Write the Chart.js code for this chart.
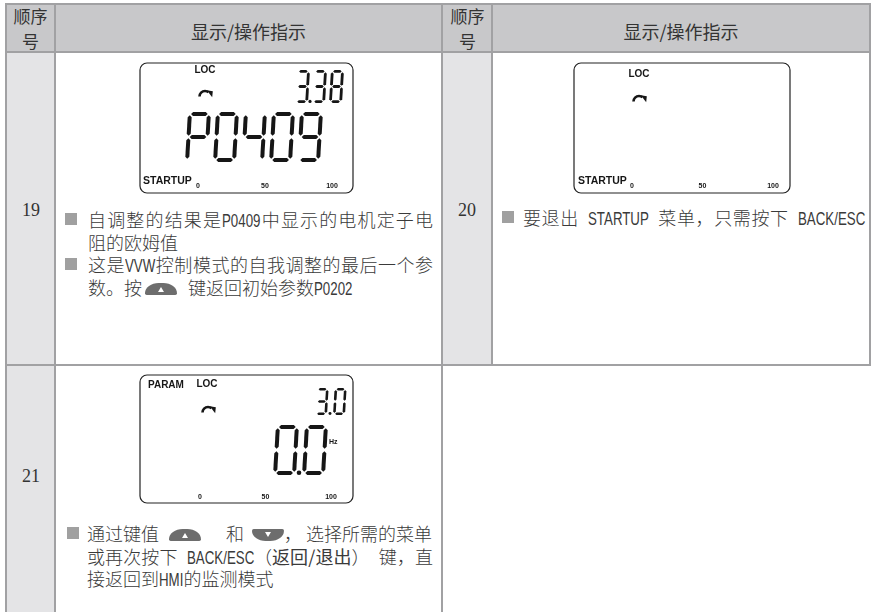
<!DOCTYPE html>
<html>
<head>
<meta charset="utf-8">
<script src="https://cdn.jsdelivr.net/npm/chart.js@4.4.1/dist/chart.umd.min.js"></script>
<style>
body { margin: 0; background: #fff; }
#page { position: relative; width: 876px; height: 612px; overflow: hidden; background: #fff;
  font-family: "Noto Sans CJK SC", sans-serif; color: #3a3a3a; }
.bg { position: absolute; }
.ln { position: absolute; background: #a1a1a3; }
.hd { position: absolute; font-size: 18px; color: #333; text-align: center; }
.num { position: absolute; font-family: "Liberation Serif", serif; font-size: 18px; color: #333; text-align: center; line-height: 20px; }
.txt { position: absolute; font-size: 18px; line-height: 22.5px; white-space: nowrap; font-weight: 300; }
.txt .row { position: relative; height: 22.5px; }
.txt .j { text-align: justify; text-align-last: justify; }
.lat { display: inline-block; font-family: "Liberation Sans", sans-serif; font-size: 17.5px; font-weight: normal;
  transform: scaleX(0.76); transform-origin: 0 50%; }
.sq { position: absolute; top: 5px; width: 12px; height: 12px; background: #a0a0a0; }
.up, .dn { display: inline-block; position: relative; width: 32px; height: 12px; background: #6d6d6d; vertical-align: middle; top: -1px; }
.up { border-radius: 16px 16px 2px 2px / 12px 12px 2px 2px; }
.dn { border-radius: 2px 2px 16px 16px / 2px 2px 12px 12px; }
.up::after, .dn::after { content: ""; position: absolute; left: 13px; border-left: 3px solid transparent; border-right: 3px solid transparent; }
.up::after { top: 4px; border-bottom: 5px solid #fff; }
.dn::after { top: 3px; border-top: 5px solid #fff; }
canvas { position: absolute; }
</style>
</head>
<body>
<div id="page">
  <!-- cell backgrounds -->
  <div class="bg" style="left:5px;top:3px;width:866px;height:50px;background:#c8c8ca"></div>
  <div class="bg" style="left:5px;top:53px;width:51px;height:559px;background:#e4e4e6"></div>
  <div class="bg" style="left:441px;top:53px;width:52px;height:313px;background:#e4e4e6"></div>

  <!-- grid lines -->
  <div class="ln" style="left:5px;top:3px;width:2px;height:609px"></div>
  <div class="ln" style="left:54px;top:3px;width:2px;height:609px"></div>
  <div class="ln" style="left:441px;top:3px;width:2px;height:609px"></div>
  <div class="ln" style="left:491px;top:3px;width:2px;height:363px"></div>
  <div class="ln" style="left:869px;top:3px;width:2px;height:363px"></div>
  <div class="ln" style="left:5px;top:3px;width:866px;height:2px"></div>
  <div class="ln" style="left:5px;top:51px;width:866px;height:2px"></div>
  <div class="ln" style="left:5px;top:364px;width:866px;height:2px"></div>

  <!-- header -->
  <div class="hd" style="left:5px;top:3px;width:51px;font-size:17px;line-height:25px">顺序<br>号</div>
  <div class="hd" style="left:56px;top:20px;width:385px;line-height:22px">显示/操作指示</div>
  <div class="hd" style="left:443px;top:3px;width:49px;font-size:17px;line-height:25px">顺序<br>号</div>
  <div class="hd" style="left:493px;top:20px;width:376px;line-height:22px">显示/操作指示</div>

  <!-- step numbers -->
  <div class="num" style="left:7px;top:200px;width:48px">19</div>
  <div class="num" style="left:443px;top:200px;width:48px">20</div>
  <div class="num" style="left:7px;top:466px;width:48px">21</div>

  <!-- LCD screens -->
  <canvas id="lcd0"></canvas>
  <canvas id="lcd1"></canvas>
  <canvas id="lcd2"></canvas>

  <!-- step 19 text -->
  <div class="txt" style="left:88px;top:208px;width:345px">
    <div class="row j"><span class="sq" style="left:-23px"></span>自调整的结果是<span class="lat">P0409</span>中显示的电机定子电</div>
    <div class="row">阻的欧姆值</div>
  </div>
  <div class="txt" style="left:88px;top:253px;width:345px">
    <div class="row j"><span class="sq" style="left:-23px"></span>这是<span class="lat">VVW</span>控制模式的自我调整的最后一个参</div>
    <div class="row">数。按<span class="up" style="margin-left:3px;margin-right:11px"></span>键返回初始参数<span class="lat">P0202</span></div>
  </div>

  <!-- step 20 text -->
  <div class="txt" style="left:523px;top:206px;width:342px">
    <div class="row j"><span class="sq" style="left:-21px"></span>要退出&ensp;<span class="lat">STARTUP</span>&ensp;菜单，只需按下&ensp;<span class="lat">BACK/ESC</span></div>
  </div>

  <!-- step 21 text -->
  <div class="txt" style="left:87px;top:522px;width:346px">
    <div class="row"><span class="sq" style="left:-20px"></span>通过键值<span class="up" style="margin-left:10px;margin-right:25px"></span>和<span class="dn" style="margin-left:8px;margin-right:0"></span>，<span style="margin-left:4px">选择所需的菜单</span></div>
    <div class="row j">或再次按下&ensp;<span class="lat">BACK/ESC</span>（<b style="font-weight:normal">返回/退出</b>）&ensp;键，直</div>
    <div class="row">接返回到<span class="lat">HMI</span>的监测模式</div>
  </div>
</div>

<script>
// narrow the latin runs: scaled spans give back the width they no longer use
document.querySelectorAll(".lat").forEach((el) => {
  const w = el.getBoundingClientRect().width / 0.76;
  el.style.marginRight = (-(1 - 0.76) * w) + "px";
});

// what each LCD shows
const lcdTicks = [0, 50, 100];
const barLevel = [0, 0, 0];
const topReading = ["3.38", "", "3.0"];
const mainReading = ["P0409", "", "0.0"];
const modeText = ["STARTUP", "STARTUP", ""];
const paramText = ["", "", "PARAM"];
const unitText = ["", "", "Hz"];

// where each LCD sits on the page and where its pieces go inside the frame
const lcdBoxes = [
  { x: 140, y: 63, w: 213, h: 130, axisL: 58, axisR: 192, tickY: 123,
    loc: [65, 7], arrow: [65, 27], mode: [3, 118], param: [8, 10], unit: [189, 67],
    top: { x: 155, y: 7, h: 33, w: 13, pitch: 17, t: 2.8 },
    main: { x: 45, y: 49, h: 50, w: 23, pitch: 28, t: 4 } },
  { x: 574, y: 63, w: 216, h: 130, axisL: 58, axisR: 199, tickY: 123,
    loc: [65, 11], arrow: [65, 32], mode: [4, 118], param: [8, 10], unit: [189, 67],
    top: null, main: null },
  { x: 140, y: 375, w: 213, h: 128, axisL: 60, axisR: 191, tickY: 122,
    loc: [67, 9], arrow: [68, 31], mode: [3, 118], param: [8, 10], unit: [189, 67],
    top: { x: 175, y: 13, h: 27, w: 12, pitch: 18, t: 2.6 },
    main: { x: 133, y: 50, h: 50, w: 23, pitch: 29, t: 4 } }
];

const OFF = 3; // frame inset inside the canvas
const INK = "#161616";

const SEGS = { "0": "abcdef", "1": "bc", "2": "abdeg", "3": "abcdg", "4": "bcfg", "5": "acdfg",
  "6": "acdefg", "7": "abc", "8": "abcdefg", "9": "abcdfg", "P": "abefg" };

function segPoints(s, w, h, t) {
  const g = t * 0.3, ht = t / 2;
  const H = (y, x1, x2) => [[x1, y], [x1 + ht, y - ht], [x2 - ht, y - ht], [x2, y], [x2 - ht, y + ht], [x1 + ht, y + ht]];
  const V = (x, y1, y2) => [[x, y1], [x + ht, y1 + ht], [x + ht, y2 - ht], [x, y2], [x - ht, y2 - ht], [x - ht, y1 + ht]];
  const l = ht, r = w - ht, top = ht, mid = h / 2, bot = h - ht;
  if (s === "a") return H(top, l + g, r - g);
  if (s === "g") return H(mid, l + g, r - g);
  if (s === "d") return H(bot, l + g, r - g);
  if (s === "f") return V(l, top + g, mid - g);
  if (s === "b") return V(r, top + g, mid - g);
  if (s === "e") return V(l, mid + g, bot - g);
  return V(r, mid + g, bot - g);
}

function drawDigits(ctx, str, o, bx, by) {
  const k = 0.06;
  let cx = bx + o.x;
  const oy = by + o.y;
  ctx.fillStyle = INK;
  for (const ch of str) {
    if (ch === ".") {
      const d = o.t * 1.15;
      const gx = cx - (o.pitch - o.w) / 2;
      ctx.beginPath();
      ctx.arc(gx, oy + o.h - d / 2, d / 2, 0, Math.PI * 2);
      ctx.fill();
      continue;
    }
    for (const s of SEGS[ch] || "") {
      const pts = segPoints(s, o.w, o.h, o.t);
      ctx.beginPath();
      pts.forEach(([px, py], n) => {
        const X = cx + px + (o.h - py) * k, Y = oy + py;
        if (n === 0) ctx.moveTo(X, Y); else ctx.lineTo(X, Y);
      });
      ctx.closePath();
      ctx.fill();
    }
    cx += o.pitch;
  }
}

// the curved "rotation" arrow of the panel, (cx, cy) = top of the curve
function drawArrow(ctx, cx, cy) {
  ctx.strokeStyle = INK;
  ctx.fillStyle = INK;
  ctx.lineWidth = 2.6;
  ctx.lineCap = "butt";
  ctx.beginPath();
  ctx.arc(cx, cy + 6.5, 5.5, Math.PI * 1.0, Math.PI * 1.72);
  ctx.stroke();
  ctx.beginPath();
  ctx.moveTo(cx + 1.8, cy + 0.2);
  ctx.lineTo(cx + 7.8, cy + 1.2);
  ctx.lineTo(cx + 7.2, cy + 7.2);
  ctx.closePath();
  ctx.fill();
}

const lcdFace = {
  id: "lcdFace",
  afterDraw(chart) {
    const i = chart.options.plugins.lcdFace.index;
    const b = lcdBoxes[i];
    const ctx = chart.ctx;
    const bx = OFF, by = OFF;
    ctx.save();
    ctx.strokeStyle = "#222";
    ctx.lineWidth = 1.2;
    ctx.beginPath();
    ctx.roundRect(bx, by, b.w, b.h, 7);
    ctx.stroke();

    ctx.fillStyle = INK;
    ctx.textBaseline = "middle";
    ctx.font = 'bold 10px "Liberation Sans", Arial, sans-serif';
    ctx.textAlign = "center";
    ctx.fillText("LOC", bx + b.loc[0], by + b.loc[1]);
    ctx.textAlign = "left";
    if (paramText[i]) ctx.fillText(paramText[i], bx + b.param[0], by + b.param[1]);
    if (modeText[i]) {
      ctx.font = 'bold 10.5px "Liberation Sans", Arial, sans-serif';
      ctx.fillText(modeText[i], bx + b.mode[0], by + b.mode[1]);
    }
    if (unitText[i]) {
      ctx.font = 'bold 7px "Liberation Sans", Arial, sans-serif';
      ctx.fillText(unitText[i], bx + b.unit[0], by + b.unit[1]);
    }
    drawArrow(ctx, bx + b.arrow[0], by + b.arrow[1]);
    if (b.top && topReading[i]) drawDigits(ctx, topReading[i], b.top, bx, by);
    if (b.main && mainReading[i]) drawDigits(ctx, mainReading[i], b.main, bx, by);
    ctx.restore();
  }
};

lcdBoxes.forEach((b, i) => {
  const cv = document.getElementById("lcd" + i);
  const cw = b.w + OFF * 2, ch = b.h + OFF * 2;
  cv.width = cw;
  cv.height = ch;
  cv.style.left = (b.x - OFF) + "px";
  cv.style.top = (b.y - OFF) + "px";

  new Chart(cv, {
    type: "bar",
    data: {
      labels: ["bar"],
      datasets: [{ data: [barLevel[i]], backgroundColor: INK, barThickness: 4, inflateAmount: 0, borderWidth: 0 }]
    },
    options: {
      responsive: false,
      animation: false,
      indexAxis: "y",
      layout: {
        padding: {
          left: OFF + b.axisL,
          right: cw - (OFF + b.axisR),
          top: 100,
          bottom: Math.max(0, ch - (OFF + b.tickY) - 4.2)
        }
      },
      plugins: {
        legend: { display: false },
        tooltip: { enabled: false },
        lcdFace: { index: i }
      },
      scales: {
        x: {
          min: 0,
          max: 100,
          afterBuildTicks: (s) => { s.ticks = lcdTicks.map((v) => ({ value: v })); },
          ticks: {
            font: { family: '"Liberation Sans", Arial, sans-serif', size: 7, weight: "bold" },
            color: INK,
            padding: 0,
            maxRotation: 0,
            autoSkip: false
          },
          grid: { display: false, drawTicks: false },
          border: { display: false }
        },
        y: { display: false }
      }
    },
    plugins: [lcdFace]
  });
});
</script>
</body>
</html>
